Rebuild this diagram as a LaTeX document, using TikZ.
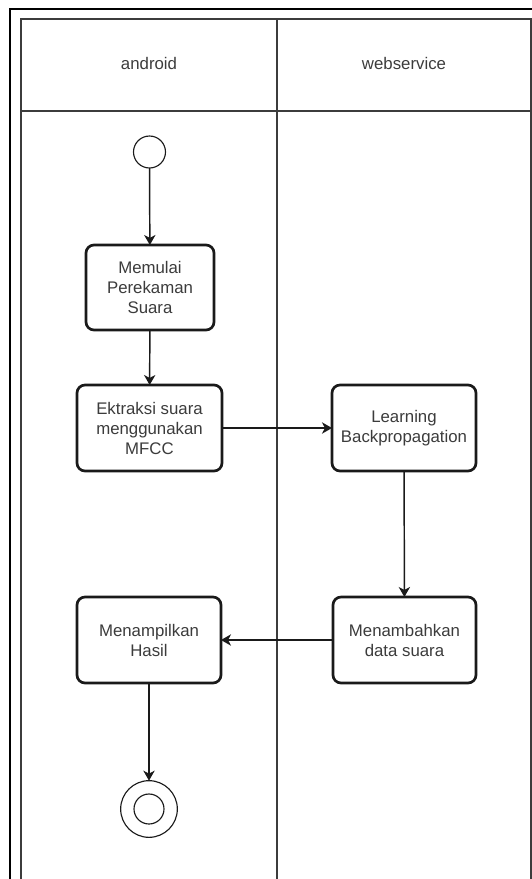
\documentclass[tikz,border=0pt]{standalone}
\usepackage{fontspec}
\setmainfont{Liberation Sans}
\usetikzlibrary{arrows.meta}
\definecolor{ink}{HTML}{1A1A1A}
\definecolor{txt}{HTML}{3C3C3C}
\tikzset{
  lane/.style={draw=ink!85, line width=0.9pt},
  frame/.style={draw=black, line width=1.6pt},
  act/.style={draw=ink, line width=2pt, rounded corners=6pt, fill=white,
    align=center, text=txt, inner sep=0pt, outer sep=0pt,
    font=\fontsize{12.6}{15}\selectfont},
  startnode/.style={circle, draw=ink, line width=0.85pt, inner sep=0pt, outer sep=0pt,
    minimum size=24pt},
  endnode/.style={circle, draw=ink, line width=0.85pt, inner sep=0pt, outer sep=0pt,
    minimum size=42.5pt},
  flow/.style={draw=ink, line width=1.1pt, -{Stealth[length=7.5pt, width=8.5pt, inset=2.2pt]}},
  lanetitle/.style={text=txt, font=\fontsize{12.6}{15}\selectfont}
}
\begin{document}
\begin{tikzpicture}[x=0.75pt, y=-0.75pt]
  \useasboundingbox (0,0) rectangle (532,879);
  \begin{scope}
    \clip (0,0) rectangle (532,879);
    % outer frame, running off the page on the right and bottom
    \draw[frame] (10,900) -- (10,9) -- (560,9);
    % swimlane table
    \draw[lane] (21,900) -- (21,19) -- (531,19) -- (531,900);
    \draw[lane] (21,111) -- (531,111);
    \draw[lane] (277,19) -- (277,900);
  \end{scope}
  \node[lanetitle] (lane1) at (149,63) {android};
  \node[lanetitle] (lane2) at (404,63) {webservice};

  % activities
  \node[startnode] (start) at (149.5,152) {};
  \node[act, minimum width=96pt, minimum height=63.75pt] (rec) at (150,287.5)
    {Memulai\\Perekaman\\Suara};
  \node[act, minimum width=108.75pt, minimum height=64.5pt] (mfcc) at (149.5,428)
    {Ektraksi suara\\menggunakan\\MFCC};
  \node[act, minimum width=108pt, minimum height=64.5pt] (learn) at (404,428)
    {Learning\\Backpropagation};
  \node[act, minimum width=107.25pt, minimum height=64.5pt] (add) at (404.5,640)
    {Menambahkan\\data suara};
  \node[act, minimum width=108pt, minimum height=64.5pt] (show) at (149,640)
    {Menampilkan\\Hasil};
  \node[endnode] (stop) at (149,809) {};
  \node[circle, draw=ink, line width=0.85pt, inner sep=0pt, minimum size=22.5pt] (stopdot) at (stop.center) {};

  % control flow
  \draw[flow] (start) -- (rec);
  \draw[flow] (rec) -- (mfcc);
  \draw[flow] (mfcc) -- (learn);
  \draw[flow] (learn) -- (add);
  \draw[flow] (add) -- (show);
  \draw[flow] (show) -- (stop);
\end{tikzpicture}
\end{document}
